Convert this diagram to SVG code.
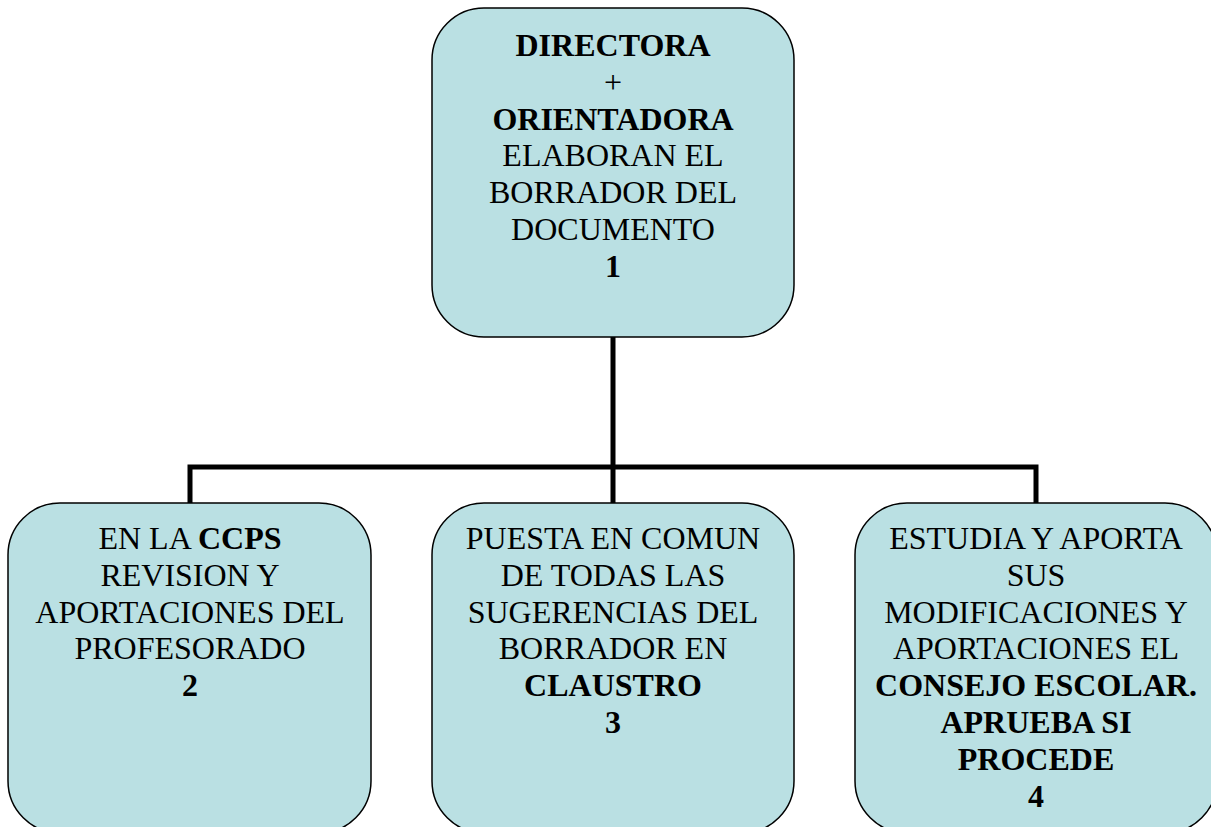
<svg xmlns="http://www.w3.org/2000/svg" width="1211" height="827" viewBox="0 0 1211 827">
<style>
.box{fill:#BAE0E3;stroke:#000;stroke-width:1.5}
.t{font-family:"Liberation Serif","Times New Roman",serif;font-size:32px;fill:#000;text-anchor:middle}
.b{font-weight:bold}
.conn{fill:none;stroke:#000;stroke-width:5}
</style>
<rect width="1211" height="827" fill="#fff"/>
<g id="connectors">
<path class="conn" d="M613 337V467M190 503V467H1036V503M613 467V503"/>
</g>
<g id="node1">
<rect class="box" x="432" y="8" width="362" height="329" rx="52" ry="52"/>
<text class="t" x="613" y="56"><tspan class="b">DIRECTORA</tspan><tspan x="613" dy="36.8">+</tspan><tspan x="613" dy="36.8" class="b">ORIENTADORA</tspan><tspan x="613" dy="36.8">ELABORAN EL</tspan><tspan x="613" dy="36.8">BORRADOR DEL</tspan><tspan x="613" dy="36.8">DOCUMENTO</tspan><tspan x="613" dy="36.8" class="b">1</tspan></text>
</g>
<g id="node2">
<rect class="box" x="8" y="503" width="363" height="330" rx="52" ry="52"/>
<text class="t" x="190" y="549">EN LA <tspan class="b">CCPS</tspan><tspan x="190" dy="36.8">REVISION Y</tspan><tspan x="190" dy="36.8">APORTACIONES DEL</tspan><tspan x="190" dy="36.8">PROFESORADO</tspan><tspan x="190" dy="36.8" class="b">2</tspan></text>
</g>
<g id="node3">
<rect class="box" x="432" y="503" width="362" height="330" rx="52" ry="52"/>
<text class="t" x="613" y="549">PUESTA EN COMUN<tspan x="613" dy="36.8">DE TODAS LAS</tspan><tspan x="613" dy="36.8">SUGERENCIAS DEL</tspan><tspan x="613" dy="36.8">BORRADOR EN</tspan><tspan x="613" dy="36.8" class="b">CLAUSTRO</tspan><tspan x="613" dy="36.8" class="b">3</tspan></text>
</g>
<g id="node4">
<rect class="box" x="855" y="503" width="362" height="330" rx="52" ry="52"/>
<text class="t" x="1036" y="549">ESTUDIA Y APORTA<tspan x="1036" dy="36.8">SUS</tspan><tspan x="1036" dy="36.8">MODIFICACIONES Y</tspan><tspan x="1036" dy="36.8">APORTACIONES EL</tspan><tspan x="1036" dy="36.8" class="b">CONSEJO ESCOLAR.</tspan><tspan x="1036" dy="36.8" class="b">APRUEBA SI</tspan><tspan x="1036" dy="36.8" class="b">PROCEDE</tspan><tspan x="1036" dy="36.8" class="b">4</tspan></text>
</g>
</svg>
